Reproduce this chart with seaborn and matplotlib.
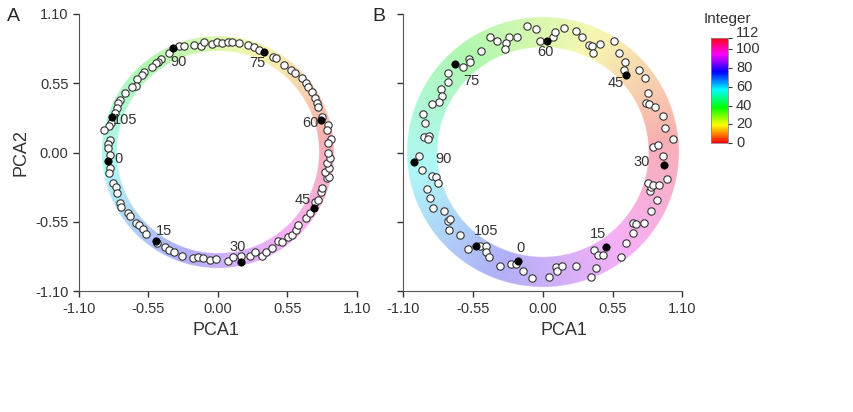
import numpy as np
import pandas as pd
import seaborn as sns
import matplotlib.pyplot as plt
from matplotlib.colors import Normalize
from matplotlib.cm import ScalarMappable

# ---- data ----
# Panel A: embedded samples (white)
a_x = [-0.388, -0.309, -0.267, -0.188, -0.134, -0.108, -0.050, -0.010, -0.451, -0.472,
       -0.491, -0.520, -0.583, -0.604, -0.643, -0.651, -0.683, -0.736, -0.775, -0.789,
       -0.801, -0.815, -0.847, -0.862, -0.900, -0.854, -0.868, -0.873, -0.854, -0.854,
       -0.862, -0.828, -0.809, -0.801, -0.775, -0.767, -0.714, -0.696, -0.651, -0.625,
       -0.596, -0.572, -0.485, -0.419, -0.388, -0.350, -0.282, -0.195, -0.161, -0.116,
       -0.063, -0.018, 0.077, 0.121, 0.182, 0.253, 0.293, 0.346, 0.377, 0.430,
       0.472, 0.504, 0.551, 0.588, 0.615, 0.635, 0.694, 0.728, 0.767, 0.789,
       0.815, 0.825, 0.860, 0.878, 0.847, 0.878, 0.860, 0.886, 0.873, 0.034,
       0.077, 0.113, 0.166, 0.240, 0.285, 0.324, 0.433, 0.459, 0.525, 0.578,
       0.609, 0.667, 0.694, 0.710, 0.741, 0.767, 0.781, 0.793, 0.820, 0.868,
       0.860, 0.894, 0.873]
a_y = [0.790, 0.845, 0.845, 0.850, 0.845, 0.872, 0.858, 0.877, 0.737, 0.718,
       0.706, 0.679, 0.639, 0.613, 0.579, 0.526, 0.521, 0.468, 0.415, 0.389,
       0.350, 0.310, 0.231, 0.212, 0.178, 0.099, 0.065, 0.033, -0.020, -0.125,
       -0.160, -0.244, -0.271, -0.318, -0.402, -0.434, -0.481, -0.502, -0.555, -0.574,
       -0.608, -0.645, -0.718, -0.750, -0.771, -0.787, -0.819, -0.837, -0.829, -0.837,
       -0.850, -0.845, -0.858, -0.829, -0.819, -0.819, -0.785, -0.819, -0.785, -0.758,
       -0.698, -0.706, -0.671, -0.653, -0.613, -0.574, -0.521, -0.481, -0.389, -0.376,
       -0.310, -0.283, -0.204, -0.191, -0.152, -0.125, -0.085, -0.046, -0.006, 0.864,
       0.872, 0.872, 0.869, 0.850, 0.837, 0.811, 0.758, 0.745, 0.692, 0.653,
       0.631, 0.587, 0.547, 0.516, 0.481, 0.429, 0.394, 0.358, 0.278, 0.218,
       0.178, 0.104, 0.073]

# Panel B: embedded samples (white)
b_x = [-0.127, -0.054, -0.022, -0.416, -0.364, -0.264, -0.206, -0.290, -0.298, -0.487,
       -0.580, -0.574, -0.632, -0.750, -0.750, -0.805, -0.797, -0.816, -0.871, -0.947,
       -0.929, -0.937, -0.895, -0.903, -0.974, -0.955, -0.876, -0.842, -0.824, -0.916,
       -0.890, -0.868, -0.777, -0.750, -0.732, -0.740, -0.653, -0.588, -0.495, -0.448,
       -0.448, -0.422, -0.338, -0.251, -0.211, -0.154, -0.085, 0.051, 0.104, 0.110,
       0.149, 0.262, 0.378, 0.417, 0.406, 0.433, 0.477, 0.614, 0.656, 0.709,
       0.714, 0.735, 0.800, 0.853, 0.898, 0.845, 0.853, 0.832, 0.871, 0.916,
       0.982, 0.946, 0.078, 0.096, 0.167, 0.262, 0.307, 0.367, 0.386, 0.394,
       0.451, 0.562, 0.603, 0.648, 0.640, 0.761, 0.808, 0.832, 0.814, 0.840,
       0.885, 0.946, 0.964, 1.024, 0.871, 0.911]
b_y = [1.003, 0.977, 0.885, 0.911, 0.885, 0.911, 0.916, 0.864, 0.819, 0.805,
       0.740, 0.718, 0.674, 0.631, 0.560, 0.502, 0.447, 0.402, 0.384, 0.305,
       0.236, 0.120, 0.131, 0.104, -0.028, -0.138, -0.186, -0.191, -0.239, -0.291,
       -0.362, -0.441, -0.463, -0.540, -0.528, -0.613, -0.653, -0.763, -0.737, -0.737,
       -0.785, -0.824, -0.896, -0.882, -0.882, -0.935, -0.995, -0.983, -0.903, -0.935,
       -0.898, -0.896, -0.987, -0.916, -0.771, -0.811, -0.811, -0.824, -0.714, -0.639,
       -0.555, -0.566, -0.555, -0.463, -0.376, -0.302, -0.271, -0.239, -0.257, -0.257,
       -0.212, -0.028, 0.911, 0.951, 0.983, 0.964, 0.916, 0.850, 0.843, 0.790,
       0.858, 0.885, 0.790, 0.718, 0.653, 0.653, 0.587, 0.473, 0.394, 0.384,
       0.362, 0.289, 0.191, 0.104, 0.046, 0.059]

# labelled integers (black dots)
marks = [0, 15, 30, 45, 60, 75, 90, 105]
a_mark_x = [-0.868, -0.493, 0.182, 0.762, 0.815, 0.366, -0.354, -0.841]
a_mark_y = [-0.067, -0.698, -0.864, -0.441, 0.257, 0.797, 0.829, 0.283]
b_mark_x = [-0.193, 0.502, 0.958, 0.655, 0.030, -0.694, -1.014, -0.528]
b_mark_y = [-0.858, -0.745, -0.099, 0.613, 0.884, 0.700, -0.078, -0.737]

axis_ticks = [-1.10, -0.55, 0.00, 0.55, 1.10]
cbar_ticks = [0, 20, 40, 60, 80, 100, 112]

# label placement (pixel offsets from each black dot)
a_offsets = [(10, 2), (8, 10), (-3, 15), (-12, 8), (-11, -3), (-7, -11), (5, -14), (13, -3)]
b_offsets = [(2, 13), (-8, 13), (-23, 3), (-10, -8), (-1, -11), (17, -17), (29, 3), (10, 15)]

sns.set_style('ticks')
plt.rcParams['font.family'] = ['Liberation Sans', 'DejaVu Sans']
ink = '#333333'


def draw_ring(ax, r_in, r_out):
    # pastel hue wheel band behind the points
    g = np.linspace(-1.1, 1.1, 900)
    X, Y = np.meshgrid(g, g)
    r = np.hypot(X, Y)
    hue = (np.arctan2(Y, X) / (2 * np.pi) - 0.015) % 1.0
    rgb = plt.get_cmap('hsv')(hue)[..., :3]
    rgb = 0.97 - 0.28 * (1 - rgb)
    step = g[1] - g[0]
    a = np.clip((r - r_in) / step, 0, 1) * np.clip((r_out - r) / step, 0, 1)
    img = np.dstack([np.clip(rgb, 0, 1), a])
    ax.imshow(img, extent=(-1.1, 1.1, -1.1, 1.1), origin='lower',
              interpolation='antialiased', zorder=0, aspect='auto')


def panel(ax, xs, ys, mx, my, offsets, ring, show_y):
    draw_ring(ax, *ring)
    pts = pd.DataFrame({'PCA1': xs, 'PCA2': ys})
    sns.scatterplot(data=pts, x='PCA1', y='PCA2', ax=ax, color='white',
                    edgecolor=ink, linewidth=0.8, s=28, zorder=3)
    mk = pd.DataFrame({'PCA1': mx, 'PCA2': my, 'n': marks})
    sns.scatterplot(data=mk, x='PCA1', y='PCA2', ax=ax, color='black',
                    edgecolor='black', linewidth=0.5, s=28, zorder=4)
    for (x, y, n), (dx, dy) in zip(mk[['PCA1', 'PCA2', 'n']].values, offsets):
        ax.annotate(str(int(n)), (x, y), xytext=(dx, dy), textcoords='offset pixels',
                    ha='center', va='center', fontsize=10.5, color=ink, zorder=5)
    ax.set_xlim(-1.1, 1.1)
    ax.set_ylim(-1.1, 1.1)
    ax.set_xticks(axis_ticks)
    ax.set_yticks(axis_ticks)
    ax.set_xticklabels([f'{t:.2f}' for t in axis_ticks])
    if show_y:
        ax.set_yticklabels([f'{t:.2f}' for t in axis_ticks])
        ax.set_ylabel('PCA2', fontsize=13, color=ink)
    else:
        ax.set_yticklabels([])
        ax.set_ylabel('')
    ax.set_xlabel('PCA1', fontsize=13, color=ink)
    ax.tick_params(labelsize=10.5, colors=ink, length=4, width=1)
    for s in ('left', 'bottom'):
        ax.spines[s].set_color('#555555')
    sns.despine(ax=ax)


fig = plt.figure(figsize=(8.54, 4.12), dpi=100)
ax_a = fig.add_axes([0.0925, 0.2925, 0.3255, 0.6747])
ax_b = fig.add_axes([0.4722, 0.2925, 0.3267, 0.6747])

panel(ax_a, a_x, a_y, a_mark_x, a_mark_y, a_offsets, (0.80, 0.92), True)
panel(ax_b, b_x, b_y, b_mark_x, b_mark_y, b_offsets, (0.83, 1.07), False)
ax_a.xaxis.set_label_coords(0.493, -0.11)
ax_b.xaxis.set_label_coords(0.576, -0.11)

fig.text(13.5 / 854, 1 - 16.5 / 412, 'A', fontsize=14, ha='center', va='center')
fig.text(379 / 854, 1 - 16.5 / 412, 'B', fontsize=14, ha='center', va='center')

# colour bar for the integer index
cax = fig.add_axes([711 / 854, 1 - 143 / 412, 17 / 854, 105 / 412])
sm = ScalarMappable(norm=Normalize(0, 112), cmap='hsv')
cb = fig.colorbar(sm, cax=cax, ticks=cbar_ticks)
cb.outline.set_edgecolor('#888888')
cb.outline.set_linewidth(0.6)
cax.tick_params(colors=ink, length=3, width=0.8)
cax.set_yticklabels([])
# tick labels drawn by hand so the top one can sit just above the bar
for t in cbar_ticks:
    lift = 5 if t == 112 else 0
    cax.annotate(str(t), (1.0, t), xycoords=cax.get_yaxis_transform(),
                 xytext=(8, lift), textcoords='offset pixels',
                 ha='left', va='center', fontsize=10.5, color=ink)
fig.text(727 / 854, 1 - 19 / 412, 'Integer', fontsize=11, ha='center', va='center', color=ink)

fig.savefig('out.png', dpi=100)
